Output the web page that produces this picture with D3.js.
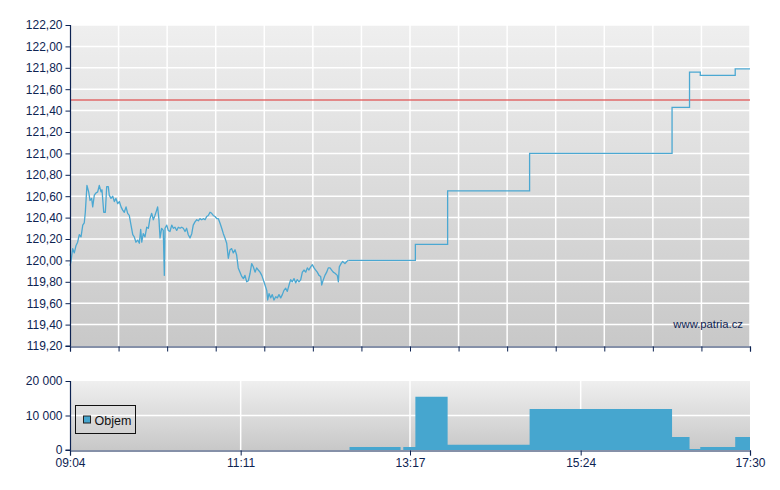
<!DOCTYPE html>
<html><head><meta charset="utf-8">
<script src="https://cdn.jsdelivr.net/npm/d3@7"></script>
<style>
body{margin:0;background:#fff}
text{font-family:"Liberation Sans",Arial,sans-serif}
</style>
</head><body><svg id="c" width="780" height="490"></svg>
<script>
// ---- DATA ----
const priceTicks = [119.2,119.4,119.6,119.8,120.0,120.2,120.4,120.6,120.8,121.0,121.2,121.4,121.6,121.8,122.0,122.2];
const timeLabels = ["09:04","11:11","13:17","15:24","17:30"];
const volumeTicks = [0,10000,20000];
const referencePrice = 121.5;
// continuous trading part: [minutes since midnight, price]
const priceSeries = [
[544,119.95],[544.7,119.99],[546.0,120.11],[547.2,120.07],[548.5,120.14],[549.7,120.17],[550.9,120.24],[552.2,120.22],
[553.5,120.33],[554.6,120.35],[555.4,120.45],[556.6,120.70],[557.9,120.64],[558.9,120.56],[560.1,120.58],[560.9,120.50],
[562.1,120.61],[563.3,120.63],[564.6,120.64],[565.8,120.70],[567.1,120.64],[567.8,120.66],[569.1,120.45],[570.3,120.45],
[571.3,120.69],[572.5,120.69],[573.2,120.61],[574.5,120.58],[575.8,120.60],[577.0,120.55],[578.2,120.58],[579.5,120.53],
[580.7,120.55],[582.0,120.50],[583.2,120.47],[584.4,120.45],[585.7,120.50],[586.9,120.44],[588.1,120.42],[589.4,120.33],
[590.7,120.24],[591.8,120.22],[593.1,120.17],[594.4,120.19],[595.6,120.16],[596.6,120.29],[597.4,120.17],[598.5,120.25],
[599.8,120.22],[601.1,120.31],[602.3,120.30],[603.5,120.39],[604.8,120.44],[606.0,120.38],[607.2,120.42],[608.5,120.47],
[609.2,120.50],[610.2,120.38],[611.0,120.21],[612.2,120.30],[613.4,120.28],[614.2,119.86],[614.7,120.30],[616.0,120.33],
[617.1,120.28],[618.4,120.27],[619.7,120.33],[620.9,120.30],[622.1,120.31],[623.4,120.28],[624.6,120.31],[625.9,120.30],
[627.1,120.31],[628.3,120.30],[629.6,120.27],[630.8,120.30],[632.0,120.24],[633.3,120.21],[634.6,120.25],[635.7,120.33],
[637.0,120.36],[638.3,120.38],[639.5,120.37],[640.7,120.39],[642.0,120.38],[643.2,120.39],[644.5,120.38],[645.7,120.41],
[646.9,120.42],[648.2,120.45],[649.4,120.44],[650.6,120.42],[651.9,120.41],[653.2,120.39],[654.4,120.39],[655.6,120.35],
[656.9,120.30],[658.1,120.25],[659.3,120.21],[660.6,120.16],[661.8,120.02],[663.1,120.10],[664.3,120.11],[665.5,120.07],
[666.8,120.10],[668.0,120.05],[669.2,119.93],[670.5,119.89],[671.8,119.85],[673.0,119.83],[674.2,119.86],[675.5,119.80],
[676.7,119.81],[678.0,119.88],[679.2,119.97],[680.4,119.94],[681.7,119.89],[682.9,119.93],[684.1,119.91],[685.4,119.89],
[686.7,119.86],[687.8,119.82],[689.1,119.77],[690.4,119.72],[691.1,119.63],[692.1,119.69],[693.3,119.65],[694.5,119.68],
[695.8,119.63],[697.1,119.66],[698.3,119.65],[699.5,119.68],[700.8,119.65],[702.0,119.68],[703.2,119.72],[704.5,119.74],
[705.7,119.71],[707.0,119.77],[708.2,119.82],[709.4,119.80],[710.7,119.83],[711.9,119.79],[713.1,119.82],[714.4,119.80],
[715.7,119.82],[716.9,119.89],[718.1,119.91],[719.4,119.89],[720.6,119.93],[721.8,119.91],[723.1,119.94],[724.3,119.96],
[725.6,119.93],[726.8,119.91],[728.0,119.89],[729.3,119.86],[730.5,119.85],[731.3,119.77],[732.5,119.82],[733.7,119.86],
[735.0,119.89],[736.2,119.93],[737.5,119.93],[738.7,119.91],[739.9,119.89],[741.2,119.88],[742.9,119.86],[743.7,119.80],
[744.4,119.94],[745.7,119.97],[746.9,119.99],[748.6,119.97],[749.9,119.99],[751.1,120.00]
];
// later trades, held until next trade: [minutes since midnight, price]
const priceSteps = [
[751.1,120.00],[801,120.15],[825,120.65],[886,121.00],[992,121.43],[1005,121.76],[1013,121.73],[1039,121.79],[1050,121.79]
];
// [minutes since midnight, volume] (step-after)
const volumeSeries = [
[544,0],[752,900],[790,0],[792,900],[801,15400],[825,1500],[886,11900],[992,3800],[1005,300],[1013,900],[1039,3800],[1050,3800]
];

// ---- LAYOUT ----
const svg = d3.select("#c");
const L = 70, R = 750;
const mainTop = 25, mainBot = 346;
const volTop = 381, volBot = 450;
const navy = "#0d2352";
const toMin = s => { const [h,m] = s.split(":").map(Number); return h*60+m; };
const tStart = toMin(timeLabels[0]), tEnd = toMin(timeLabels[timeLabels.length-1]);

const x = d3.scaleLinear().domain([tStart, tEnd]).range([L, R]);
const y = d3.scaleLinear().domain([priceTicks[0], priceTicks[priceTicks.length-1]]).range([mainBot, mainTop]);
const yv = d3.scaleLinear().domain([0, 20000]).range([volBot, volTop]);

const defs = svg.append("defs");
const g1 = defs.append("linearGradient").attr("id","bg").attr("x1",0).attr("y1",0).attr("x2",0).attr("y2",1);
g1.append("stop").attr("offset","0%").attr("stop-color","#efefef");
g1.append("stop").attr("offset","100%").attr("stop-color","#c8c8c8");

// ---- MAIN PANEL ----
svg.append("rect").attr("x",L).attr("y",mainTop).attr("width",R-L).attr("height",mainBot-mainTop).attr("fill","url(#bg)");
const mainGrid = d3.range(15).map(k => tStart + k*(tEnd-tStart)/14);
svg.append("g").selectAll("line").data(priceTicks.slice(1)).join("line")
  .attr("x1",L).attr("x2",R).attr("y1",d=>y(d)).attr("y2",d=>y(d))
  .attr("stroke","#fff").attr("stroke-width",1.5);
svg.append("g").selectAll("line").data(mainGrid.slice(1)).join("line")
  .attr("x1",d=>x(d)).attr("x2",d=>x(d)).attr("y1",mainTop).attr("y2",mainBot)
  .attr("stroke","#fff").attr("stroke-width",1.5);

// reference line
svg.append("line").attr("x1",L).attr("x2",R).attr("y1",y(referencePrice)).attr("y2",y(referencePrice))
  .attr("stroke","#e05555").attr("stroke-width",1.5).attr("opacity",0.85);

// price line
const lineLin = d3.line().x(d=>x(d[0])).y(d=>y(d[1]));
const lineStep = d3.line().x(d=>x(d[0])).y(d=>y(d[1])).curve(d3.curveStepAfter);
svg.append("path").datum(priceSeries).attr("d",lineLin)
  .attr("fill","none").attr("stroke","#4ba8d2").attr("stroke-width",1.3).attr("stroke-linejoin","round");
svg.append("path").datum(priceSteps).attr("d",lineStep)
  .attr("fill","none").attr("stroke","#4ba8d2").attr("stroke-width",1.3);

// axes main
const yAxis = d3.axisLeft(y).tickValues(priceTicks).tickSize(5).tickPadding(3)
  .tickFormat(d => d3.format(".2f")(d).replace(".",","));
const ga = svg.append("g").attr("transform",`translate(${L+0.5},0)`).call(yAxis);
const xAxisMain = d3.axisBottom(x).tickValues(mainGrid).tickSize(5).tickFormat("");
const gb = svg.append("g").attr("transform",`translate(0,${mainBot+0.5})`).call(xAxisMain);

svg.append("text").attr("x",743).attr("y",327.5).attr("text-anchor","end")
  .attr("font-size","11.3px").attr("fill",navy).text("www.patria.cz");

// ---- VOLUME PANEL ----
svg.append("rect").attr("x",L).attr("y",volTop).attr("width",R-L).attr("height",volBot-volTop).attr("fill","url(#bg)");
const volTimes = timeLabels.map(toMin);
svg.append("g").selectAll("line").data(volumeTicks.slice(1,2)).join("line")
  .attr("x1",L).attr("x2",R).attr("y1",d=>yv(d)).attr("y2",d=>yv(d))
  .attr("stroke","#fff").attr("stroke-width",1.5);
svg.append("g").selectAll("line").data(volTimes.slice(1,-1)).join("line")
  .attr("x1",d=>x(d)).attr("x2",d=>x(d)).attr("y1",volTop).attr("y2",volBot)
  .attr("stroke","#fff").attr("stroke-width",1.5);

const area = d3.area().x(d=>x(d[0])).y0(yv(0)).y1(d=>yv(d[1])).curve(d3.curveStepAfter);
svg.append("path").datum(volumeSeries).attr("d",area).attr("fill","#46a6cf");

const fmtLoc = d3.formatLocale({decimal:",",thousands:" ",grouping:[3],currency:["",""]});
const yvAxis = d3.axisLeft(yv).tickValues(volumeTicks).tickSize(5).tickPadding(3).tickFormat(fmtLoc.format(",d"));
const gc = svg.append("g").attr("transform",`translate(${L+0.5},0)`).call(yvAxis);
const xAxisVol = d3.axisBottom(x).tickValues(volTimes).tickSize(5).tickPadding(3).tickFormat((d,i)=>timeLabels[i]);
const gd = svg.append("g").attr("transform",`translate(0,${volBot+0.5})`).call(xAxisVol);

[ga,gb,gc,gd].forEach(g=>{
  g.select(".domain").attr("stroke",navy).attr("stroke-width",1.2);
  g.selectAll(".tick line").attr("stroke",navy);
  g.selectAll("text").attr("fill",navy).attr("font-size","12px").attr("font-family","Liberation Sans, Arial, sans-serif");
});
ga.select(".domain").attr("d",`M-5,${mainBot}H0V${mainTop}`);
gc.select(".domain").attr("d",`M-5,${volBot}H0V${volTop}`);

// legend
const lg = svg.append("g");
lg.append("rect").attr("x",75.5).attr("y",405.5).attr("width",60).attr("height",28).attr("fill","none").attr("stroke","#111").attr("stroke-width",1);
lg.append("rect").attr("x",83.5).attr("y",416).attr("width",7).attr("height",7).attr("fill","#46a6cf").attr("stroke","#222").attr("stroke-width",1);
lg.append("text").attr("x",94.5).attr("y",424.5).attr("font-size","12.5px").attr("fill","#111").text("Objem");
</script>
</body></html>
